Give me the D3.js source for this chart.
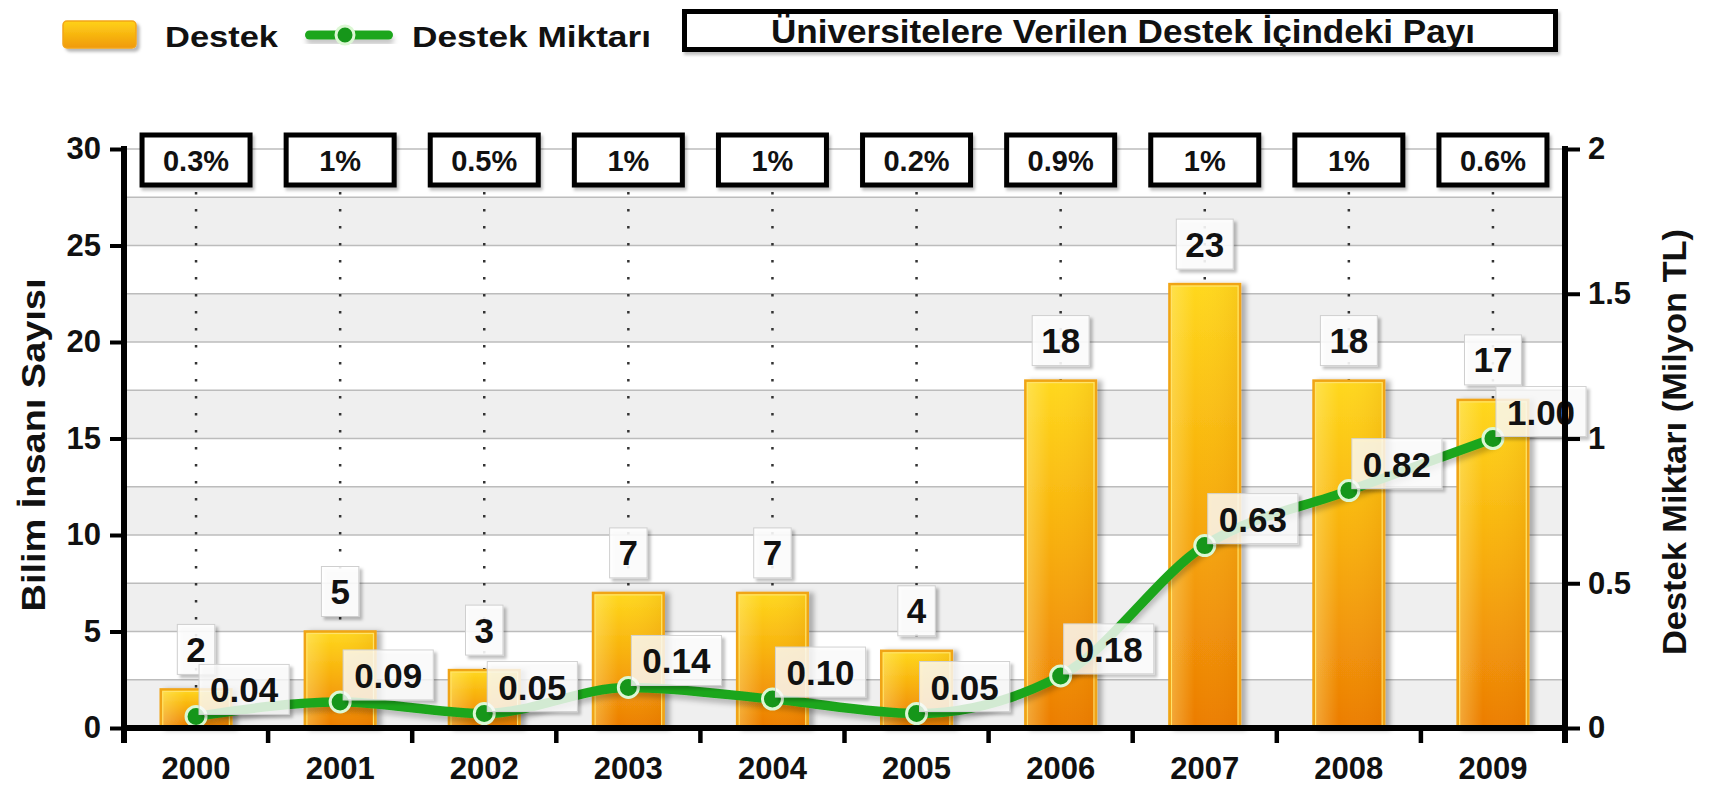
<!DOCTYPE html>
<html>
<head>
<meta charset="utf-8">
<script src="https://cdn.jsdelivr.net/npm/d3@7"></script>
<style>
  html, body { margin: 0; padding: 0; background: #fff; }
  svg { display: block; font-family: "Liberation Sans", Arial, sans-serif; font-weight: bold; }
</style>
</head>
<body>
<svg id="chart" width="1711" height="789"></svg>
<script>
// ---- data ----
const years = ["2000","2001","2002","2003","2004","2005","2006","2007","2008","2009"];
const scientists = [2, 5, 3, 7, 7, 4, 18, 23, 18, 17];           // Destek (Bilim İnsanı Sayısı)
const amounts = [0.04, 0.09, 0.05, 0.14, 0.10, 0.05, 0.18, 0.63, 0.82, 1.00]; // Destek Miktarı (Milyon TL)
const shares = ["0.3%","1%","0.5%","1%","1%","0.2%","0.9%","1%","1%","0.6%"];
const leftTicks = [0, 5, 10, 15, 20, 25, 30];
const rightTicks = [0, 0.5, 1, 1.5, 2];
const gridSteps = [2.5, 5, 7.5, 10, 12.5, 15, 17.5, 20, 22.5, 25, 27.5, 30];
const bandStarts = [0, 5, 10, 15, 20, 25];

const titleText = "Üniversitelere Verilen Destek İçindeki Payı";
const legendBar = "Destek";
const legendLine = "Destek Miktarı";
const yLeftTitle = "Bilim İnsanı Sayısı";
const yRightTitle = "Destek Miktarı (Milyon TL)";

// ---- layout ----
const svg = d3.select("#chart");
const L = 124, R = 1565, T = 149, B = 728;

const x = d3.scaleBand().domain(years).range([L, R]).padding(0);
const yL = d3.scaleLinear().domain([0, 30]).range([B, T]);
const yR = d3.scaleLinear().domain([0, 2]).range([B, T]);
const bw = x.bandwidth();
const cx = d => x(d) + bw / 2;
const barW = bw * 0.49;

// ---- defs ----
const defs = svg.append("defs");
const g1 = defs.append("linearGradient").attr("id", "barGrad").attr("x1", 0).attr("y1", 0).attr("x2", 0).attr("y2", 1);
g1.append("stop").attr("offset", "0%").attr("stop-color", "#ffd81e");
g1.append("stop").attr("offset", "45%").attr("stop-color", "#f8b00c");
g1.append("stop").attr("offset", "100%").attr("stop-color", "#ec7c04");
const g2 = defs.append("linearGradient").attr("id", "barSheen").attr("x1", 0).attr("y1", 0).attr("x2", 1).attr("y2", 0);
g2.append("stop").attr("offset", "0%").attr("stop-color", "#fff3a0").attr("stop-opacity", 0.35);
g2.append("stop").attr("offset", "35%").attr("stop-color", "#fff3a0").attr("stop-opacity", 0.0);
g2.append("stop").attr("offset", "100%").attr("stop-color", "#c06000").attr("stop-opacity", 0.12);
const g3 = defs.append("linearGradient").attr("id", "legGrad").attr("x1", 0).attr("y1", 0).attr("x2", 0).attr("y2", 1);
g3.append("stop").attr("offset", "0%").attr("stop-color", "#ffd21a");
g3.append("stop").attr("offset", "100%").attr("stop-color", "#f09a06");

function shadow(id, dx, dy, sd, op) {
  defs.append("filter").attr("id", id).attr("x", "-30%").attr("y", "-30%").attr("width", "170%").attr("height", "170%")
    .append("feDropShadow").attr("dx", dx).attr("dy", dy).attr("stdDeviation", sd)
    .attr("flood-color", "#000").attr("flood-opacity", op);
}
shadow("barShadow", 5, 1, 2.5, 0.28);
shadow("boxShadow", 3, 3, 1.5, 0.28);
shadow("lineShadow", 1, 5, 2.5, 0.22);
shadow("pctShadow", 2, 3, 1.5, 0.25);

// ---- plot background bands and grid ----
const bg = svg.append("g");
bg.selectAll("rect.band").data(bandStarts).join("rect")
  .attr("x", L).attr("width", R - L)
  .attr("y", d => yL(d + 2.5)).attr("height", d => yL(d) - yL(d + 2.5))
  .attr("fill", "#efefef");
bg.selectAll("line.grid").data(gridSteps).join("line")
  .attr("x1", L).attr("x2", R)
  .attr("y1", d => yL(d)).attr("y2", d => yL(d))
  .attr("stroke", "#bcbcbc").attr("stroke-width", 1.5);

// ---- dotted verticals ----
svg.append("g").selectAll("line").data(years).join("line")
  .attr("x1", d => cx(d)).attr("x2", d => cx(d))
  .attr("y1", 192).attr("y2", (d, i) => yL(scientists[i]))
  .attr("stroke", "#333").attr("stroke-width", 2.5)
  .attr("stroke-dasharray", "2.5,14.5");

// ---- bars ----
const bars = svg.append("g");
bars.selectAll("rect.bar").data(years).join("rect")
  .attr("x", d => cx(d) - barW / 2).attr("width", barW)
  .attr("y", (d, i) => yL(scientists[i])).attr("height", (d, i) => B - yL(scientists[i]))
  .attr("fill", "url(#barGrad)").attr("stroke", "#f0a414").attr("stroke-width", 2.5)
  .attr("filter", "url(#barShadow)");
bars.selectAll("rect.sheen").data(years).join("rect")
  .attr("x", d => cx(d) - barW / 2 + 2).attr("width", barW - 4)
  .attr("y", (d, i) => yL(scientists[i]) + 2).attr("height", (d, i) => Math.max(0, B - yL(scientists[i]) - 4))
  .attr("fill", "url(#barSheen)").attr("stroke", "#ffe26a").attr("stroke-width", 1.2);

// ---- bar value labels ----
const barLab = svg.append("g");
barLab.selectAll("g").data(years).join("g").each(function (d, i) {
  const g = d3.select(this);
  const t = g.append("text").attr("font-size", 35).attr("text-anchor", "middle")
    .attr("x", cx(d)).text(scientists[i]);
  const w = t.node().getComputedTextLength() + 18;
  const bottom = yL(scientists[i]) - 15, h = 50;
  g.insert("rect", "text").attr("x", cx(d) - w / 2).attr("y", bottom - h).attr("width", w).attr("height", h)
    .attr("fill", "#fff").attr("fill-opacity", 0.88).attr("stroke", "#cfcfcf").attr("stroke-width", 1)
    .attr("filter", "url(#boxShadow)");
  t.attr("y", bottom - h / 2 + 12.5).attr("fill", "#111");
});

// ---- line series ----
const pts = years.map((d, i) => [cx(d), yR(amounts[i])]);
svg.append("path").datum(pts)
  .attr("d", d3.line().curve(d3.curveMonotoneX))
  .attr("fill", "none").attr("stroke", "#1fa61f").attr("stroke-width", 9.5)
  .attr("stroke-linecap", "round").attr("filter", "url(#lineShadow)");
svg.append("g").selectAll("circle").data(pts).join("circle")
  .attr("cx", d => d[0]).attr("cy", d => d[1]).attr("r", 10)
  .attr("fill", "#16961a").attr("stroke", "#dcf7d4").attr("stroke-width", 3);

// ---- line value labels ----
const fmt = d3.format(".2f");
const lineLab = svg.append("g");
lineLab.selectAll("g").data(years).join("g").each(function (d, i) {
  const g = d3.select(this);
  const px = cx(d), py = yR(amounts[i]);
  const t = g.append("text").attr("font-size", 35).attr("text-anchor", "middle").text(fmt(amounts[i]));
  const w = t.node().getComputedTextLength() + 22, h = 50;
  const left = px + 3, bottom = py - 2;
  g.insert("rect", "text").attr("x", left).attr("y", bottom - h).attr("width", w).attr("height", h)
    .attr("fill", "#fff").attr("fill-opacity", 0.78).attr("stroke", "#d2d2d2").attr("stroke-width", 1)
    .attr("filter", "url(#boxShadow)");
  t.attr("x", left + w / 2).attr("y", bottom - h / 2 + 13).attr("fill", "#111");
});

// ---- percentage boxes ----
const pct = svg.append("g");
pct.selectAll("g").data(years).join("g").each(function (d, i) {
  const g = d3.select(this);
  const w = 108, h = 50, cy = 160;
  g.append("rect").attr("x", cx(d) - w / 2).attr("y", cy - h / 2).attr("width", w).attr("height", h)
    .attr("fill", "#fff").attr("stroke", "#000").attr("stroke-width", 5).attr("filter", "url(#pctShadow)");
  g.append("text").attr("x", cx(d)).attr("y", cy + 11).attr("text-anchor", "middle")
    .attr("font-size", 29).attr("fill", "#111").text(shares[i]);
});

// ---- axes ----
const axisStyle = g => {
  g.select(".domain").remove();
  g.selectAll(".tick line").attr("stroke", "#000").attr("stroke-width", 4);
  g.selectAll(".tick text").attr("font-size", 31).attr("font-weight", "bold").attr("fill", "#111")
    .attr("font-family", '"Liberation Sans", Arial, sans-serif');
};
svg.append("g").attr("transform", `translate(${L},0)`)
  .call(d3.axisLeft(yL).tickValues(leftTicks).tickSize(14).tickPadding(9).tickSizeOuter(0))
  .call(axisStyle);
svg.append("g").attr("transform", `translate(${R},0)`)
  .call(d3.axisRight(yR).tickValues(rightTicks).tickFormat(d3.format("")).tickSize(15).tickPadding(8).tickSizeOuter(0))
  .call(axisStyle);
const xAx = svg.append("g").attr("transform", `translate(0,${B})`)
  .call(d3.axisBottom(x).tickSize(0).tickPadding(29))
  .call(axisStyle);
xAx.selectAll(".tick text").attr("font-size", 31);

// boundary ticks on x axis
const edges = years.map(d => x(d)).concat([x.range()[1]]);
svg.append("g").selectAll("line").data(edges).join("line")
  .attr("x1", d => d).attr("x2", d => d).attr("y1", B).attr("y2", B + 15)
  .attr("stroke", "#000").attr("stroke-width", 4.5);

// axis lines
const ax = svg.append("g").attr("stroke", "#000").attr("stroke-width", 6);
ax.append("line").attr("x1", L).attr("x2", L).attr("y1", T - 3).attr("y2", B + 15);
ax.append("line").attr("x1", R).attr("x2", R).attr("y1", T - 3).attr("y2", B + 15);
ax.append("line").attr("x1", L - 2).attr("x2", R + 2).attr("y1", B).attr("y2", B);

// axis titles
svg.append("text").attr("transform", `translate(45,445) rotate(-90)`)
  .attr("text-anchor", "middle").attr("font-size", 33).attr("fill", "#111")
  .attr("textLength", 333).attr("lengthAdjust", "spacingAndGlyphs").text(yLeftTitle);
svg.append("text").attr("transform", `translate(1686,442) rotate(-90)`)
  .attr("text-anchor", "middle").attr("font-size", 33).attr("fill", "#111")
  .attr("textLength", 426).attr("lengthAdjust", "spacingAndGlyphs").text(yRightTitle);

// ---- legend ----
const leg = svg.append("g");
leg.append("rect").attr("x", 63).attr("y", 21).attr("width", 73).attr("height", 27).attr("rx", 4)
  .attr("fill", "url(#legGrad)").attr("stroke", "#f2a51a").attr("stroke-width", 1.5)
  .attr("filter", "url(#boxShadow)");
leg.append("text").attr("x", 165).attr("y", 47).attr("font-size", 30).attr("fill", "#111")
  .attr("textLength", 113).attr("lengthAdjust", "spacingAndGlyphs").text(legendBar);
leg.append("rect").attr("x", 305).attr("y", 30.5).attr("width", 88).attr("height", 9).attr("rx", 4.5)
  .attr("fill", "#1fa61f").attr("filter", "url(#lineShadow)");
leg.append("circle").attr("cx", 345).attr("cy", 35).attr("r", 9)
  .attr("fill", "#16961a").attr("stroke", "#dcf7d4").attr("stroke-width", 3);
leg.append("text").attr("x", 412).attr("y", 47).attr("font-size", 30).attr("fill", "#111")
  .attr("textLength", 239).attr("lengthAdjust", "spacingAndGlyphs").text(legendLine);

// title box
leg.append("rect").attr("x", 684.5).attr("y", 11.5).attr("width", 871).attr("height", 38)
  .attr("fill", "#fff").attr("stroke", "#000").attr("stroke-width", 5).attr("filter", "url(#pctShadow)");
leg.append("text").attr("x", 1123).attr("y", 43).attr("text-anchor", "middle")
  .attr("font-size", 33).attr("fill", "#111")
  .attr("textLength", 704).attr("lengthAdjust", "spacingAndGlyphs").text(titleText);
</script>
</body>
</html>
